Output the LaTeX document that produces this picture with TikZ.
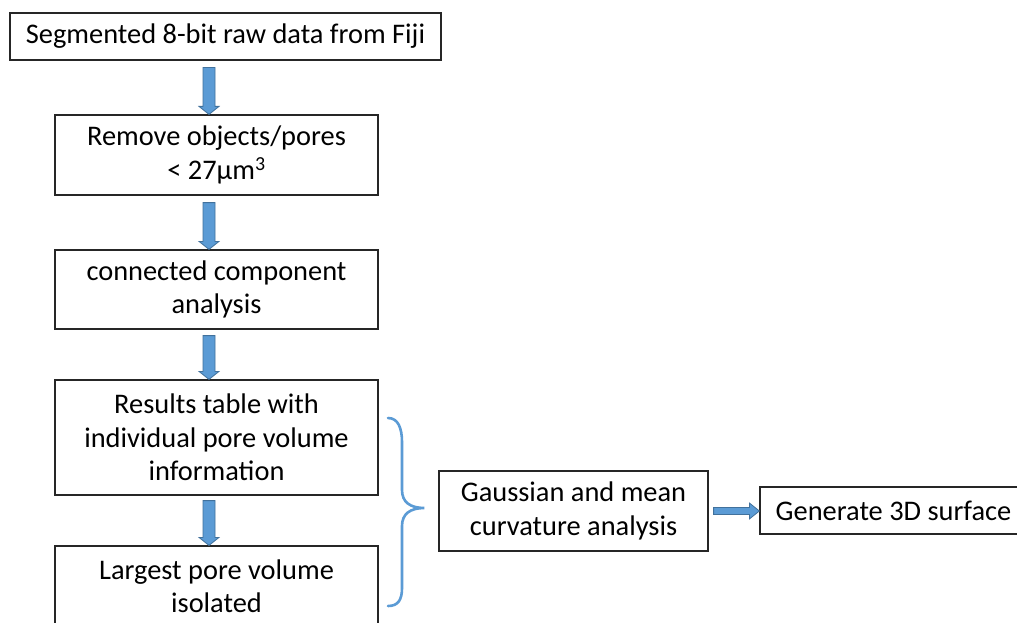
\documentclass[tikz,border=0pt]{standalone}
\usepackage{fontspec}
\setmainfont{Carlito}
\usetikzlibrary{calc}
\definecolor{afill}{HTML}{5B9BD5}
\definecolor{aline}{HTML}{41719C}
% #1 start, #2 end, #3 shaft half width, #4 head half width, #5 head length
\newcommand\blockarr[5]{%
  \coordinate (hb) at ($(#2)!#5!(#1)$);
  \filldraw[fill=afill, draw=aline, line width=0.8pt]
    ($(#1)!#3!90:(#2)$) -- ($(hb)!#3!90:(#2)$) -- ($(hb)!#4!90:(#2)$) -- (#2)
    -- ($(hb)!#4!-90:(#2)$) -- ($(hb)!#3!-90:(#2)$) -- ($(#1)!#3!-90:(#2)$) -- cycle;
}
\begin{document}
\begin{tikzpicture}[x=1pt,y=1pt,
  box/.style={draw=black!85, line width=1.2pt, fill=white, align=center, inner sep=0pt,
    font=\fontsize{28.4}{33.5}\selectfont},
  brace/.style={draw=afill, line width=2.6pt, line cap=round}]
\useasboundingbox (0,0) rectangle (1017,-623);
\clip (0,0) rectangle (1017,-623);
\fill[white] (0,0) rectangle (1017,-623);

\node[box, minimum width=431, minimum height=47] (b1) at (225.5,-36.5) {Segmented 8-bit raw data from Fiji};
\node[box, minimum width=323, minimum height=80] (b2) at (216.5,-155) {Remove objects/pores\\ < 27µm\textsuperscript{3}};
\node[box, minimum width=323, minimum height=79] (b3) at (216.5,-289.5) {connected component\\ analysis};
\node[box, minimum width=323, minimum height=115] (b4) at (216.5,-437.5) {Results table with\\ individual pore volume\\ information};
\node[box, minimum width=323, minimum height=80] (b5) at (216.5,-586) {Largest pore volume\\ isolated};
\node[box, minimum width=269, minimum height=80] (b6) at (573.5,-511) {Gaussian and mean\\ curvature analysis};
\node[box, minimum width=267, minimum height=47] (b7) at (893.5,-510.5) {Generate 3D surface};

\coordinate (ax) at (209,0);
\coordinate (s1) at ([yshift=-7pt]b1.south -| ax);
\coordinate (t1) at (b2.north -| ax);
\coordinate (s2) at ([yshift=-7pt]b2.south -| ax);
\coordinate (t2) at (b3.north -| ax);
\coordinate (s3) at ([yshift=-6pt]b3.south -| ax);
\coordinate (t3) at (b4.north -| ax);
\coordinate (s4) at ([yshift=-5pt]b4.south -| ax);
\coordinate (t4) at (b5.north -| ax);
\blockarr{s1}{t1}{6pt}{10pt}{8pt}
\blockarr{s2}{t2}{6pt}{10pt}{8pt}
\blockarr{s3}{t3}{6pt}{10pt}{8pt}
\blockarr{s4}{t4}{6pt}{10pt}{8pt}

\coordinate (s5) at ([xshift=5pt]b6.east);
\coordinate (t5) at (b7.west |- s5);
\blockarr{s5}{t5}{3.5pt}{8pt}{10pt}

% brace
\coordinate (bt) at ([xshift=-14pt]b6.west |- 0,-508);
\draw[brace] (388,-418) .. controls (398,-418) and (402,-428) .. (402,-442)
  -- (402,-490) .. controls (402,-502) and (410,-508) .. (bt)
  .. controls (410,-508) and (402,-514) .. (402,-526)
  -- (402,-588) .. controls (402,-600) and (398,-606) .. (388,-606);
\end{tikzpicture}
\end{document}
